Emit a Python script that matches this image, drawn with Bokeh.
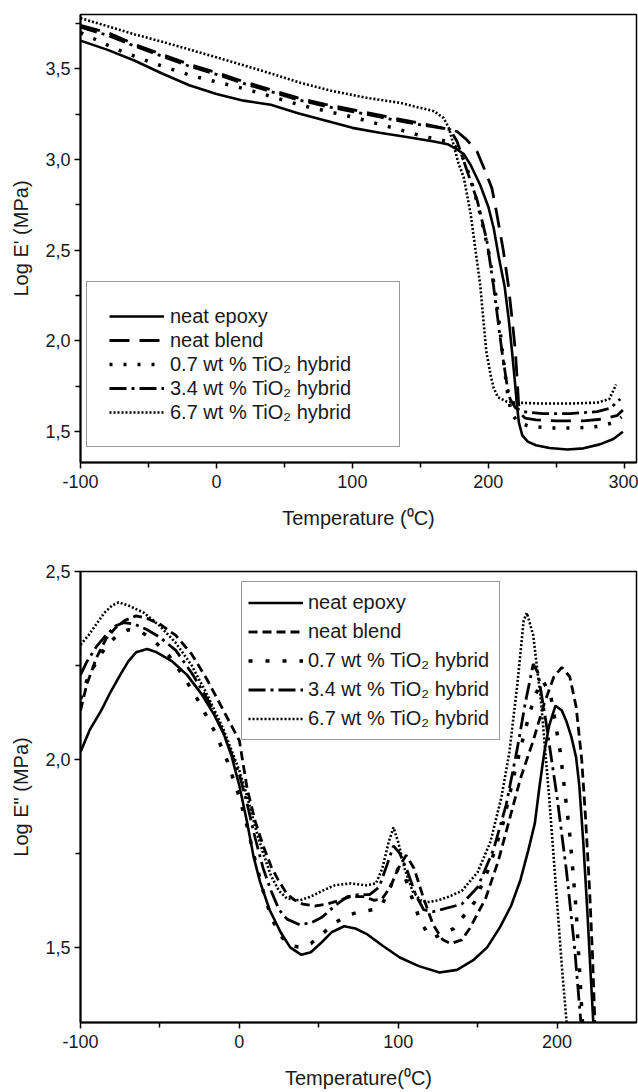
from bokeh.plotting import figure
from bokeh.models import Legend, LegendItem, FixedTicker, CustomJSTickFormatter
from bokeh.layouts import column
from bokeh.embed import file_html
from bokeh.resources import INLINE

# ---------------- Top panel: Log E' (storage modulus) ----------------
labels = ["neat epoxy", "neat blend", "0.7 wt % TiO\u2082 hybrid",
          "3.4 wt % TiO\u2082 hybrid", "6.7 wt % TiO\u2082 hybrid"]

top_epoxy_T = [-100, -80, -60, -40, -20, 0, 20, 40, 60, 80, 100, 120, 140, 160, 170, 177, 182, 187,
               194, 200, 204, 208, 212, 215, 217.4, 219.5, 221, 222.5, 225, 229, 235, 245, 258, 270, 282, 292, 299]
top_epoxy_E = [3.656, 3.605, 3.545, 3.475, 3.41, 3.362, 3.325, 3.302, 3.255, 3.215, 3.175, 3.148, 3.125, 3.10,
               3.085, 3.056, 3.03, 2.97, 2.86, 2.74, 2.62, 2.45, 2.30, 2.12, 1.944, 1.78, 1.65, 1.55, 1.48,
               1.445, 1.425, 1.41, 1.402, 1.408, 1.43, 1.46, 1.50]

top_blend_T = [-100, -80, -60, -40, -20, 0, 20, 40, 60, 80, 100, 120, 140, 160, 170, 177, 184, 191.6,
               197, 202.7, 206.5, 211, 214.7, 217.5, 219.9, 221.3, 222.3, 223.5, 227, 235, 250, 270, 285, 295, 299]
top_blend_E = [3.74, 3.70, 3.635, 3.58, 3.525, 3.48, 3.43, 3.385, 3.34, 3.305, 3.275, 3.245, 3.215, 3.185,
               3.168, 3.155, 3.11, 3.046, 2.95, 2.84, 2.69, 2.50, 2.31, 2.12, 1.944, 1.78, 1.65, 1.60, 1.575,
               1.565, 1.56, 1.56, 1.57, 1.59, 1.62]

top_07_T = [-100, -73, -47, -17, 23, 62, 100, 130, 151, 170, 178, 183, 188, 194, 200, 205, 208, 211, 214,
            217, 222, 230, 245, 265, 282, 292, 298]
top_07_E = [3.70, 3.607, 3.533, 3.46, 3.386, 3.30, 3.235, 3.175, 3.13, 3.10, 3.06, 2.98, 2.87, 2.70, 2.50,
            2.28, 2.10, 1.90, 1.72, 1.60, 1.55, 1.53, 1.52, 1.52, 1.53, 1.55, 1.58]

top_34_T = [-100, -80, -60, -40, -20, 0, 20, 40, 60, 80, 100, 120, 140, 160, 172, 177, 182, 187, 192, 199,
            203.7, 207, 210, 213.7, 216, 220, 226, 240, 260, 280, 290, 297]
top_34_E = [3.73, 3.685, 3.625, 3.57, 3.515, 3.47, 3.42, 3.375, 3.33, 3.295, 3.265, 3.235, 3.205, 3.18,
            3.165, 3.10, 2.99, 2.88, 2.77, 2.55, 2.31, 2.12, 1.944, 1.76, 1.68, 1.63, 1.61, 1.60, 1.60,
            1.61, 1.63, 1.68]

top_67_T = [-100, -80, -60, -40, -20, 0, 20, 40, 62, 86, 111, 135, 160, 167, 171, 174.5, 178, 182, 187,
            194, 198.5, 202, 204, 207, 213.7, 220, 240, 260, 280, 289, 294]
top_67_E = [3.78, 3.735, 3.69, 3.65, 3.607, 3.564, 3.52, 3.475, 3.423, 3.377, 3.34, 3.313, 3.267, 3.23,
            3.175, 3.08, 2.98, 2.90, 2.70, 2.31, 1.944, 1.80, 1.74, 1.69, 1.665, 1.66, 1.655, 1.655, 1.66,
            1.68, 1.76]

# ---------------- Bottom panel: Log E'' (loss modulus) ----------------
bot_epoxy_T = [-100, -94, -87, -81, -75, -70, -65, -58, -52, -42, -33, -24, -16, -10, -5, 0, 5, 9, 13, 19,
               26, 32, 39, 45, 51, 58, 66, 73, 80, 90, 101, 113, 126, 137, 147, 156, 164, 171, 177, 182,
               186, 189, 192, 195, 199, 203, 206, 209, 212, 214, 216.5, 219, 221, 222.8]
bot_epoxy_E = [2.02, 2.08, 2.13, 2.18, 2.225, 2.26, 2.285, 2.294, 2.285, 2.26, 2.225, 2.175, 2.12, 2.07,
               2.01, 1.93, 1.83, 1.74, 1.675, 1.60, 1.54, 1.50, 1.48, 1.487, 1.51, 1.54, 1.556, 1.55, 1.536,
               1.505, 1.473, 1.45, 1.433, 1.44, 1.465, 1.50, 1.553, 1.61, 1.68, 1.76, 1.83, 1.93, 2.02,
               2.09, 2.143, 2.13, 2.10, 2.06, 2.005, 1.93, 1.78, 1.60, 1.44, 1.30]

bot_blend_T = [-100, -96, -90, -84, -78, -72, -65, -58, -50, -40, -30, -20, -10, 0, 5, 10, 15, 20, 25, 30,
               35, 40, 48, 55, 63, 70, 78, 85, 90, 95, 100, 105, 110, 116, 122, 128, 133, 140, 145, 155,
               163, 170, 177, 185, 192, 198, 203, 208, 212, 215.5, 218, 220.5, 222.3, 223.8]
bot_blend_E = [2.13, 2.20, 2.27, 2.32, 2.35, 2.37, 2.382, 2.375, 2.36, 2.33, 2.28, 2.21, 2.13, 2.05, 1.92,
               1.835, 1.77, 1.715, 1.675, 1.642, 1.625, 1.615, 1.61, 1.615, 1.625, 1.635, 1.635, 1.625,
               1.63, 1.66, 1.71, 1.745, 1.71, 1.63, 1.56, 1.52, 1.51, 1.52, 1.55, 1.63, 1.73, 1.84, 1.95,
               2.05, 2.15, 2.22, 2.245, 2.22, 2.14, 2.00, 1.84, 1.65, 1.48, 1.30]

bot_07_T = [-100, -96, -90, -84, -77, -70, -62, -55, -45, -35, -25, -15, -8, 0, 5, 10, 15, 20, 26, 32, 38,
            45, 52, 60, 68, 76, 84, 90, 95, 100, 104, 108, 113, 118, 122, 135, 148, 158, 166, 173, 180,
            186, 191, 196, 202, 208, 212, 216]
bot_07_E = [2.16, 2.21, 2.26, 2.30, 2.33, 2.345, 2.34, 2.32, 2.28, 2.22, 2.15, 2.07, 2.00, 1.90, 1.82,
            1.73, 1.65, 1.58, 1.53, 1.505, 1.50, 1.51, 1.535, 1.565, 1.585, 1.595, 1.60, 1.615, 1.66,
            1.71, 1.69, 1.64, 1.58, 1.54, 1.525, 1.55, 1.62, 1.72, 1.83, 1.96, 2.08, 2.17, 2.21, 2.17,
            2.02, 1.80, 1.60, 1.30]

bot_34_T = [-100, -96, -90, -84, -78, -73, -66, -58, -50, -40, -30, -20, -10, 0, 5, 10, 15, 20, 25, 30,
            38, 45, 52, 60, 68, 75, 82, 88, 93, 97, 101, 106, 111, 116, 122, 140, 150, 160, 168, 175,
            180, 185, 188, 193, 200, 206, 211, 215]
bot_34_E = [2.225, 2.26, 2.30, 2.33, 2.355, 2.364, 2.36, 2.345, 2.325, 2.29, 2.23, 2.16, 2.07, 1.96,
            1.88, 1.79, 1.71, 1.65, 1.60, 1.575, 1.56, 1.565, 1.58, 1.61, 1.635, 1.64, 1.64, 1.66, 1.72,
            1.77, 1.75, 1.70, 1.64, 1.60, 1.595, 1.615, 1.66, 1.76, 1.88, 2.03, 2.15, 2.254, 2.23, 2.10,
            1.90, 1.70, 1.50, 1.30]

bot_67_T = [-100, -95, -90, -85, -80, -76, -70, -60, -50, -40, -30, -20, -10, 0, 5, 10, 15, 20, 25, 30,
            38, 45, 52, 60, 70, 80, 86, 90, 94, 97, 100, 104, 109, 114, 118, 125, 132, 140, 150, 158,
            165, 170, 175, 179, 181, 185, 190, 195, 200, 203, 206]
bot_67_E = [2.305, 2.33, 2.36, 2.39, 2.41, 2.418, 2.41, 2.39, 2.355, 2.31, 2.25, 2.17, 2.08, 1.97, 1.90,
            1.82, 1.75, 1.69, 1.65, 1.63, 1.625, 1.635, 1.65, 1.665, 1.67, 1.665, 1.67, 1.71, 1.78,
            1.819, 1.78, 1.71, 1.65, 1.625, 1.62, 1.625, 1.635, 1.65, 1.70, 1.78, 1.90, 2.02, 2.20,
            2.37, 2.39, 2.33, 2.15, 1.90, 1.62, 1.45, 1.30]

FONT = "Liberation Sans"


def style_axes(p, xlabel, ylabel, xt, xminor, yt, yminor):
    p.xgrid.visible = False
    p.ygrid.visible = False
    p.outline_line_color = "black"
    p.outline_line_width = 1.5
    p.outline_line_alpha = 1.0
    p.background_fill_color = "white"
    p.border_fill_color = "white"
    p.xaxis.ticker = FixedTicker(ticks=xt, minor_ticks=xminor)
    p.yaxis.ticker = FixedTicker(ticks=yt, minor_ticks=yminor)
    p.yaxis.formatter = CustomJSTickFormatter(code="return tick.toFixed(1).replace('.', ',');")
    p.xaxis.formatter = CustomJSTickFormatter(code="return tick.toFixed(0);")
    for ax in (p.xaxis[0], p.yaxis[0]):
        ax.axis_line_width = 2
        ax.axis_line_color = "black"
        ax.major_tick_line_width = 1.5
        ax.minor_tick_line_width = 1.5
        ax.major_tick_line_color = "black"
        ax.minor_tick_line_color = "black"
        ax.major_tick_in = 0
        ax.major_tick_out = 6
        ax.minor_tick_in = 0
        ax.minor_tick_out = 5
        ax.major_label_text_font = FONT
        ax.major_label_text_font_size = "18px"
        ax.major_label_text_color = "#1a1a1a"
        ax.axis_label_text_font = FONT
        ax.axis_label_text_font_size = "20px"
        ax.axis_label_text_font_style = "normal"
        ax.axis_label_text_color = "#1a1a1a"
    p.xaxis.major_label_standoff = 6
    p.yaxis.major_label_standoff = 4
    p.xaxis.axis_label = xlabel
    p.yaxis.axis_label = ylabel
    p.xaxis.axis_label_standoff = 16
    p.yaxis.axis_label_standoff = 10


def add_curves(p, data, dashes, widths):
    rends = []
    for (T, E), dash, w in zip(data, dashes, widths):
        r = p.line(T, E, line_color="black", line_width=w, line_dash=dash)
        rends.append(r)
    return rends


# ---- top figure ----
p1 = figure(width=638, height=540, x_range=(-100, 309), y_range=(1.33, 3.80),
            output_backend="svg", toolbar_location=None,
            min_border_left=80, min_border_right=2, min_border_top=14, min_border_bottom=78)
style_axes(p1, "Temperature (\u2070C)", "Log E' (MPa)",
           [-100, 0, 100, 200, 300], [-50, 50, 150, 250],
           [1.5, 2.0, 2.5, 3.0, 3.5], [1.75, 2.25, 2.75, 3.25, 3.75])
top_data = [(top_epoxy_T, top_epoxy_E), (top_blend_T, top_blend_E), (top_07_T, top_07_E),
            (top_34_T, top_34_E), (top_67_T, top_67_E)]
top_dash = ["solid", "20 10", "3 11", "17 5 3 5", "2 2"]
top_w = [2.6, 2.8, 3.5, 2.8, 2.6]
r1 = add_curves(p1, top_data, top_dash, top_w)
leg1 = Legend(items=[LegendItem(label=l, renderers=[r]) for l, r in zip(labels, r1)],
              location=(6, 15), padding=22, spacing=0, margin=0,
              glyph_width=55, glyph_height=24, label_height=24, label_width=207, label_standoff=6,
              border_line_color="#333333", border_line_width=1.5, background_fill_alpha=1.0,
              label_text_font=FONT, label_text_font_size="20px", label_text_color="#1a1a1a")
p1.add_layout(leg1)

# ---- bottom figure ----
p2 = figure(width=638, height=552, x_range=(-100, 250), y_range=(1.3, 2.5),
            output_backend="svg", toolbar_location=None,
            min_border_left=80, min_border_right=2, min_border_top=31, min_border_bottom=70)
style_axes(p2, "Temperature(\u2070C)", 'Log E" (MPa)',
           [-100, 0, 100, 200], [-50, 50, 150],
           [1.5, 2.0, 2.5], [1.75, 2.25])
bot_data = [(bot_epoxy_T, bot_epoxy_E), (bot_blend_T, bot_blend_E), (bot_07_T, bot_07_E),
            (bot_34_T, bot_34_E), (bot_67_T, bot_67_E)]
bot_dash = ["solid", "9 5", "4 13", "17 5 3 5", "2 2"]
bot_w = [2.6, 2.8, 3.5, 2.8, 2.6]
r2 = add_curves(p2, bot_data, bot_dash, bot_w)
leg2 = Legend(items=[LegendItem(label=l, renderers=[r]) for l, r in zip(labels, r2)],
              location=(161, 282), padding=6, spacing=0, margin=0,
              glyph_width=55, glyph_height=29, label_height=29, label_width=185, label_standoff=5,
              border_line_color="#333333", border_line_width=1.5, background_fill_alpha=1.0,
              label_text_font=FONT, label_text_font_size="20px", label_text_color="#1a1a1a")
p2.add_layout(leg2)

layout = column(p1, p2, spacing=0)
open("out.html", "w").write(file_html(layout, INLINE))
